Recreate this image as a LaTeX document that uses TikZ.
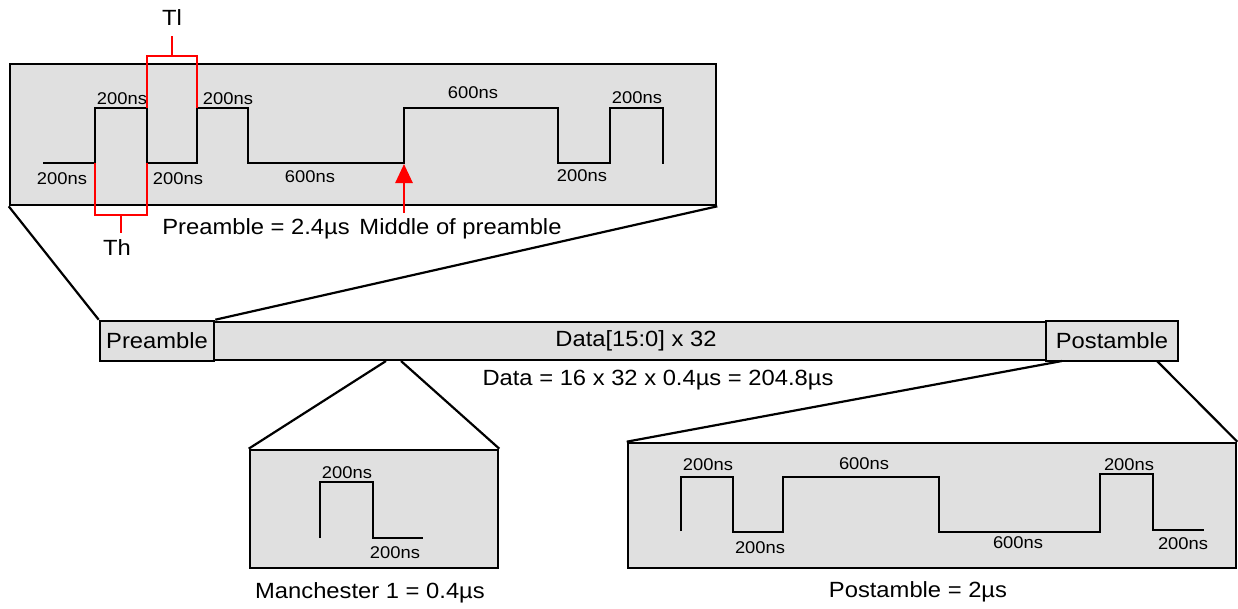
\documentclass[tikz,border=0pt]{standalone}
\usepackage{fontspec}
\setmainfont{Liberation Sans}[FakeStretch=1.08]
\usetikzlibrary{arrows.meta}
\definecolor{panelgray}{RGB}{224,224,224}
\definecolor{markred}{RGB}{255,0,0}
\tikzset{
  panel/.style={draw=black, fill=panelgray, line width=2.6pt, inner sep=0pt},
  wave/.style={draw=black, line width=2.8pt, line join=miter},
  zoomline/.style={draw=black, line width=2.2pt},
  bracket/.style={draw=markred, line width=2.8pt},
  tlabel/.style={inner sep=0pt, font=\fontsize{17}{20}\selectfont},
  biglabel/.style={inner sep=0pt, font=\fontsize{22}{26}\selectfont},
}
\begin{document}
\begin{tikzpicture}[x=1pt, y=-1pt]
\useasboundingbox (0,0) rectangle (1238,608);

% ---------- preamble detail ----------
\node[panel, minimum width=706pt, minimum height=141pt] (predetail) at (363,134.5) {};
\draw[wave] (43,163) -- (95,163) -- (95,108) -- (147,108) -- (147,163) -- (197,163)
  -- (197,108) -- (248,108) -- (248,163) -- (404,163) -- (404,108) -- (558,108)
  -- (558,163) -- (610,163) -- (610,108) -- (663,108) -- (663,164);
\node[tlabel] (p1) at (62,179) {200ns};
\node[tlabel] (p2) at (122,99) {200ns};
\node[tlabel] (p3) at (178,179) {200ns};
\node[tlabel] (p4) at (228,99) {200ns};
\node[tlabel] (p5) at (310,177) {600ns};
\node[tlabel] (p6) at (473,93) {600ns};
\node[tlabel] (p7) at (582,176) {200ns};
\node[tlabel] (p8) at (637,98) {200ns};

% Tl and Th brackets
\draw[bracket] (147,108) -- (147,56) -- (197,56) -- (197,108);
\coordinate (tlstem) at (172,56);
\node[biglabel] (tl) at (172,18) {Tl};
\draw[bracket] (tlstem) -- (172,36);
\draw[bracket] (95,163) -- (95,215) -- (147,215) -- (147,163);
\coordinate (thstem) at (121,215);
\node[biglabel] (th) at (117,248) {Th};
\draw[bracket] (thstem) -- (121,233);

% middle of preamble marker
\node[biglabel] (prelen) at (256,229) {Preamble = 2.4µs};
\node[biglabel] (middle) at (460.5,229) {Middle of preamble};
\coordinate (midtail) at (404,213);
\coordinate (midtip) at (404,164);
\draw[markred, line width=2.6pt, -{Triangle[width=17pt,length=19pt]}] (midtail) -- (midtip);

% ---------- frame row ----------
\node[panel, minimum width=832pt, minimum height=38pt] (databox) at (630,341) {};
\node[panel, minimum width=114pt, minimum height=40pt] (prebox) at (157,341) {};
\node[panel, minimum width=132pt, minimum height=40pt] (postbox) at (1112,341) {};
\node[biglabel] at (prebox) {Preamble};
\node[biglabel] at (postbox) {Postamble};
\node[biglabel] (datatxt) at (636,341) {Data[15:0] x 32};
\node[biglabel] (datalen) at (658,380) {Data = 16 x 32 x 0.4µs = 204.8µs};

\draw[zoomline] (predetail.south west) -- (prebox.north west);
\draw[zoomline] (predetail.south east) -- (prebox.north east);

% ---------- manchester 1 detail ----------
\node[panel, minimum width=248pt, minimum height=118pt] (mandetail) at (374,509) {};
\draw[wave] (320,538) -- (320,482) -- (373,482) -- (373,538) -- (423,538);
\node[tlabel] (m1) at (347,473) {200ns};
\node[tlabel] (m2) at (395,553) {200ns};
\node[biglabel] (manlen) at (370,593) {Manchester 1 = 0.4µs};
\coordinate (dl) at (386,361);
\coordinate (dr) at (401,361);
\draw[zoomline] (dl) -- (mandetail.north west);
\draw[zoomline] (dr) -- (mandetail.north east);

% ---------- postamble detail ----------
\node[panel, minimum width=608pt, minimum height=125pt] (postdetail) at (932,505.5) {};
\draw[wave] (681,531) -- (681,477) -- (733,477) -- (733,532) -- (783,532) -- (783,477)
  -- (939,477) -- (939,532) -- (1100,532) -- (1100,474) -- (1153,474) -- (1153,530)
  -- (1204,530);
\node[tlabel] (q1) at (708,465) {200ns};
\node[tlabel] (q2) at (760,548) {200ns};
\node[tlabel] (q3) at (864,464) {600ns};
\node[tlabel] (q4) at (1018,543) {600ns};
\node[tlabel] (q5) at (1129,465) {200ns};
\node[tlabel] (q6) at (1183,544) {200ns};
\node[biglabel] (postlen) at (918,592) {Postamble = 2µs};
\coordinate (pl) at (1062,361);
\coordinate (pr) at (1157,361);
\draw[zoomline] (pl) -- (postdetail.north west);
\draw[zoomline] (pr) -- (postdetail.north east);
\end{tikzpicture}
\end{document}
